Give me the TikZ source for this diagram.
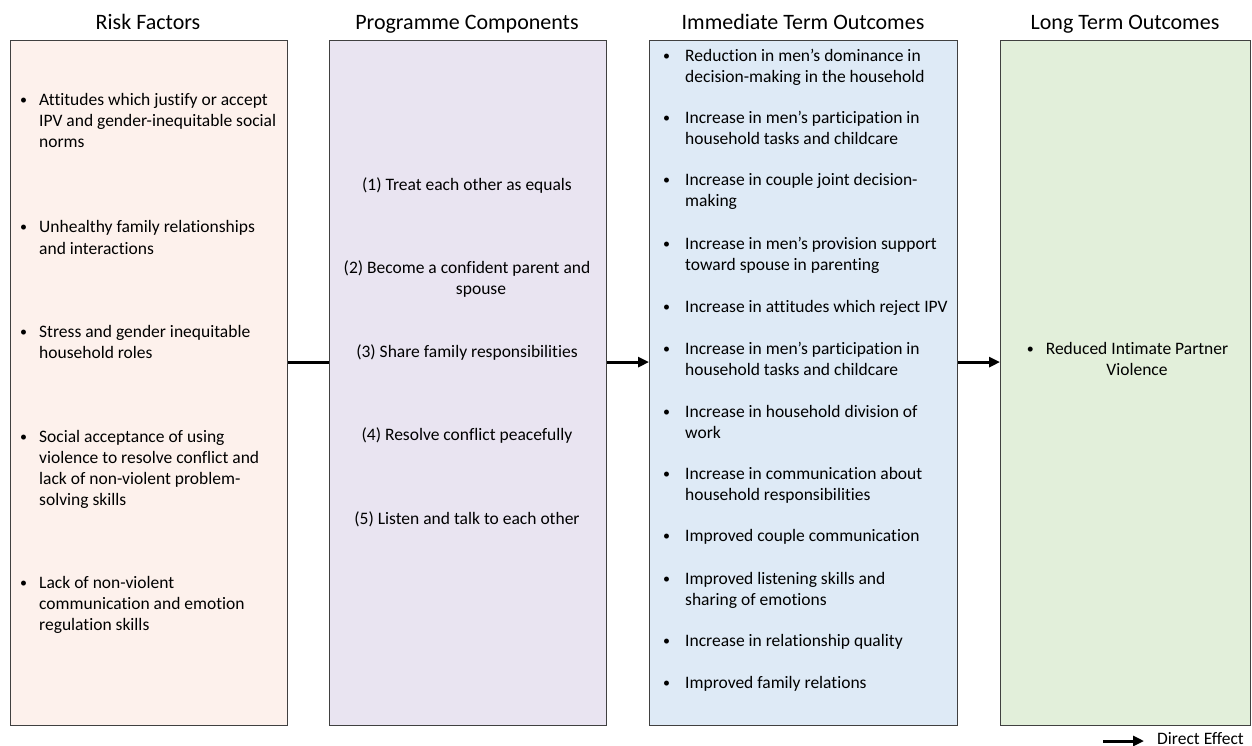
\documentclass[tikz,border=0pt]{standalone}
\usepackage{fontspec}
\setmainfont{Carlito}[Ligatures=NoCommon]
\usepackage{xcolor}
\usepackage{graphicx}
\usetikzlibrary{arrows.meta}

\definecolor{riskfill}{HTML}{FDF1EC}
\definecolor{progfill}{HTML}{E9E4F1}
\definecolor{immfill}{HTML}{DEEAF6}
\definecolor{longfill}{HTML}{E2EFDA}
\definecolor{boxline}{HTML}{404040}
\newcommand{\bul}[1][12pt]{\llap{\raisebox{1pt}{\scalebox{0.8}{\textbullet}}\hspace{#1}}}

\tikzset{
  column/.style={draw=boxline, line width=1.2pt, anchor=north west, inner sep=0pt},
  heading/.style={font=\fontsize{22}{26}\selectfont, anchor=base, inner sep=0pt},
  entry/.style={font=\fontsize{17.5}{21}\selectfont, align=left, anchor=base west, inner sep=0pt},
  compo/.style={font=\fontsize{17.5}{21}\selectfont, align=center, anchor=base, inner sep=0pt},
  effect/.style={line width=3pt, -{Triangle[length=11pt,width=10pt]}}
}

\begin{document}
\begin{tikzpicture}[x=1pt, y=-1pt]
        \useasboundingbox (0,0) rectangle (1252,746);
        % columns
        \node[column, fill=riskfill, minimum width=277pt, minimum height=685pt] (risk) at (10,40) {};
        \node[column, fill=progfill, minimum width=277pt, minimum height=685pt] (prog) at (329,40) {};
        \node[column, fill=immfill, minimum width=308pt, minimum height=685pt] (immed) at (649,40) {};
        \node[column, fill=longfill, minimum width=250pt, minimum height=685pt] (longterm) at (1000,40) {};
        % headings
        \node[heading] (riskhead) at (148,30) {Risk Factors};
        \node[heading] (proghead) at (467,30) {Programme Components};
        \node[heading] (immhead) at (803,30) {Immediate Term Outcomes};
        \node[heading] (longhead) at (1125,30) {Long Term Outcomes};
        % risk factors (placed at the baseline of the last line)
        \node[entry] (r1) at (39,148) {\bul Attitudes which justify or accept\\IPV and gender-inequitable social\\norms};
        \node[entry] (r2) at (39,254) {\bul Unhealthy family relationships\\and interactions};
        \node[entry] (r3) at (39,358) {\bul Stress and gender inequitable\\household roles};
        \node[entry] (r4) at (39,505) {\bul Social acceptance of using\\violence to resolve conflict and\\lack of non-violent problem-\\solving skills};
        \node[entry] (r5) at (39,630) {\bul Lack of non-violent\\communication and emotion\\regulation skills};
        % programme components
        \node[compo] (p1) at (467,190) {(1)~Treat each other as equals};
        \node[compo] (p2) at (467,294) {(2)~Become a confident parent and\\\hspace*{28pt}spouse};
        \node[compo] (p3) at (467,357) {(3)~Share family responsibilities};
        \node[compo] (p4) at (467,440) {(4)~Resolve conflict peacefully};
        \node[compo] (p5) at (467,524) {(5)~Listen and talk to each other};
        % immediate term outcomes
        \node[entry] (i1) at (685,83) {\bul[15pt]Reduction in men’s dominance in\\decision-making in the household};
        \node[entry] (i2) at (685,145) {\bul[15pt]Increase in men’s participation in\\household tasks and childcare};
        \node[entry] (i3) at (685,207) {\bul[15pt]Increase in couple joint decision-\\making};
        \node[entry] (i4) at (685,270) {\bul[15pt]Increase in men’s provision support\\toward spouse in parenting};
        \node[entry] (i5) at (685,312) {\bul[15pt]Increase in attitudes which reject IPV};
        \node[entry] (i6) at (685,375) {\bul[15pt]Increase in men’s participation in\\household tasks and childcare};
        \node[entry] (i7) at (685,438) {\bul[15pt]Increase in household division of\\work};
        \node[entry] (i8) at (685,500) {\bul[15pt]Increase in communication about\\household responsibilities};
        \node[entry] (i9) at (685,541) {\bul[15pt]Improved couple communication};
        \node[entry] (i10) at (685,605) {\bul[15pt]Improved listening skills and\\sharing of emotions};
        \node[entry] (i11) at (685,646) {\bul[15pt]Increase in relationship quality};
        \node[entry] (i12) at (685,688) {\bul[15pt]Improved family relations};
        % long term outcome
        \node[compo] (l1) at (1137,375) {\bul Reduced Intimate Partner\\Violence};
        % connectors
        \draw[line width=3pt] ([yshift=21pt]risk.east) -- ([yshift=21pt]prog.west);
        \draw[effect] ([yshift=21pt]prog.east) -- ([yshift=21pt]immed.west);
        \draw[effect] ([yshift=21pt]immed.east) -- ([yshift=21pt]longterm.west);
        % legend
        \coordinate (legstart) at (1103,741);
        \node[entry] (legend) at (1157,744) {Direct Effect};
        \draw[effect] (legstart) -- ([xshift=-13pt]legstart -| legend.west);
    \end{tikzpicture}
\end{document}
